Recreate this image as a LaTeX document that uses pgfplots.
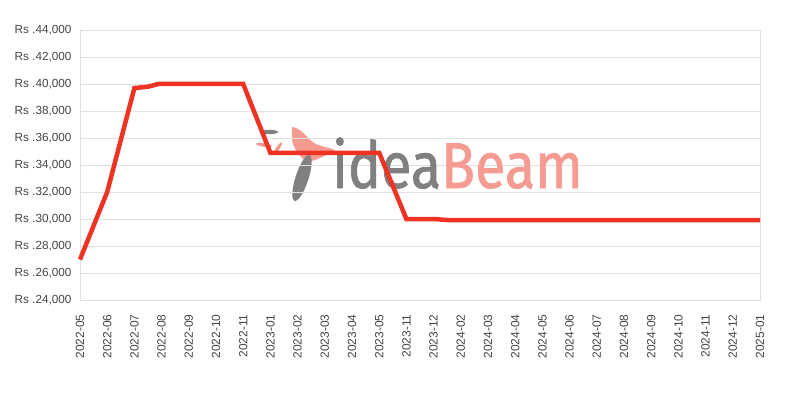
\documentclass[border=0pt]{standalone}
\usepackage{pgfplots}
\pgfplotsset{compat=1.18}
\usepackage{graphicx}
\usepackage{fontspec}
\setmainfont{Liberation Sans}
\newfontfamily\logofont[FakeBold=1.2]{Fira Sans}
\definecolor{lineRed}{RGB}{238,51,36}
\definecolor{gridGray}{RGB}{224,224,224}
\definecolor{tickText}{RGB}{68,68,68}
\definecolor{logoGray}{RGB}{128,128,128}
\definecolor{logoPink}{RGB}{245,155,145}
\begin{document}
\begin{tikzpicture}
% watermark bird (pixel coords -> (px-80, 300-py) bp)
\begin{scope}[x=1bp,y=1bp]
  \fill[logoPink] (212,173) .. controls (222,172) and (228,160) .. (236,156)
     .. controls (244,153) and (250,152) .. (255,150)
     .. controls (248,146) and (238,140) .. (228,138)
     .. controls (222,140) and (214,150) .. (212,160) -- cycle;
  \fill[logoGray] (189,168) ellipse[x radius=9bp, y radius=2.2bp];
  \fill[logoPink, rotate around={-8:(184,155)}] (184,155) ellipse[x radius=8bp, y radius=1.8bp];
  \fill[logoPink, rotate around={55:(198,152)}] (198,152) ellipse[x radius=7bp, y radius=1.8bp];
  \fill[logoGray, rotate around={-18:(222,122)}] (222,122) ellipse[x radius=6.5bp, y radius=24bp];
\end{scope}
\begin{axis}[
  at={(0,0)}, anchor=south west,
  scale only axis,
  width=680bp, height=270bp,
  xmin=0, xmax=25,
  ymin=24000, ymax=44000,
  ytick={24000,26000,...,44000},
  scaled y ticks=false,
  xtick={0,...,25},
  xticklabels={2022-05,2022-06,2022-07,2022-08,2022-09,2022-10,2022-11,2023-01,2023-02,2023-03,2023-04,2023-05,2023-11,2023-12,2024-02,2024-03,2024-04,2024-05,2024-06,2024-07,2024-08,2024-09,2024-10,2024-11,2024-12,2025-01},
  x tick label style={rotate=90, anchor=east, font=\fontsize{12}{13}\selectfont, text=tickText},
  y tick label style={font=\fontsize{11.8}{13}\selectfont, text=tickText},
  xticklabel shift=11bp,
  yticklabel shift=5bp,
  yticklabel={Rs .\pgfmathprintnumber[fixed,1000 sep={,}]{\tick}},
  /pgf/number format/assume math mode=true,
  major tick length=0pt,
  ymajorgrids,
  grid style={gridGray, line width=0.8bp},
  axis line style={gridGray, line width=0.8bp},
  clip=false,
]
\node[anchor=base west, inner sep=0pt] at (axis cs:9.26,32296)
  {\scalebox{0.86}[1]{\logofont\fontsize{65}{65}\selectfont\textcolor{logoGray}{idea}\textcolor{logoPink}{Beam}}};
\addplot[lineRed, line width=4.5bp] coordinates {
  (0,27000) (1,32000) (2,39700) (2.5,39800) (2.88,40000) (6,40000)
  (7,34900) (11,34900) (12,30000) (13,30000) (13.53,29920) (25,29920)
};
\end{axis}
\path[use as bounding box] (-80bp,-100bp) rectangle (720bp,300bp);
\end{tikzpicture}
\end{document}
